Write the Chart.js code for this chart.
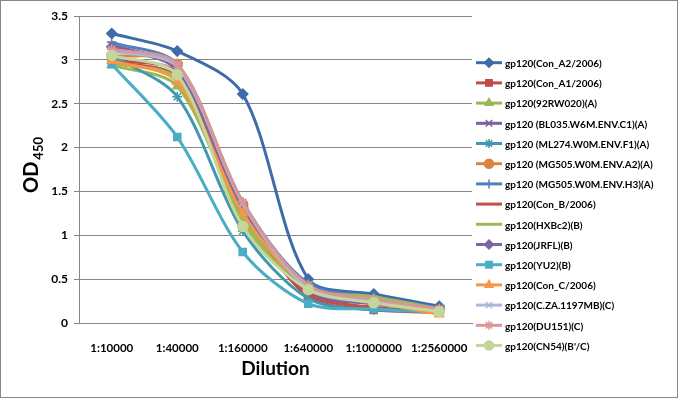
<!DOCTYPE html>
<html>
<head>
<meta charset="utf-8">
<script src="https://cdn.jsdelivr.net/npm/chart.js@4/dist/chart.umd.min.js"></script>
<style>
  html, body { margin: 0; padding: 0; background: #fff; }
  #wrap { width: 678px; height: 398px; position: relative; }
</style>
</head>
<body>
<div id="wrap"><canvas id="odChart" width="678" height="398"></canvas></div>
<script>
// Data
const dilutions = ['1:10000', '1:40000', '1:160000', '1:640000', '1:1000000', '1:2560000'];
const yTicks = [0, 0.5, 1, 1.5, 2, 2.5, 3, 3.5];

const seriesNames = [
    'gp120(Con_A2/2006)',
    'gp120(Con_A1/2006)',
    'gp120(92RW020)(A)',
    'gp120 (BL035.W6M.ENV.C1)(A)',
    'gp120 (ML274.W0M.ENV.F1)(A)',
    'gp120 (MG505.W0M.ENV.A2)(A)',
    'gp120 (MG505.W0M.ENV.H3)(A)',
    'gp120(Con_B/2006)',
    'gp120(HXBc2)(B)',
    'gp120(JRFL)(B)',
    'gp120(YU2)(B)',
    'gp120(Con_C/2006)',
    'gp120(C.ZA.1197MB)(C)',
    'gp120(DU151)(C)',
    "gp120(CN54)(B'/C)"
];

const conA2    = [3.30, 3.10, 2.61, 0.50, 0.33, 0.19];
const conA1    = [3.00, 2.85, 1.30, 0.30, 0.15, 0.12];
const rw020    = [2.94, 2.70, 1.20, 0.38, 0.28, 0.14];
const bl035    = [3.17, 2.90, 1.35, 0.35, 0.22, 0.15];
const ml274    = [3.05, 2.58, 1.05, 0.28, 0.15, 0.14];
const mg505A2  = [3.05, 2.95, 1.35, 0.42, 0.25, 0.15];
const mg505H3  = [3.20, 2.95, 1.38, 0.45, 0.30, 0.17];
const conB     = [2.98, 2.80, 1.30, 0.33, 0.18, 0.13];
const hxbc2    = [2.96, 2.78, 1.15, 0.40, 0.30, 0.16];
const jrfl     = [3.15, 2.88, 1.32, 0.38, 0.22, 0.16];
const yu2      = [2.95, 2.12, 0.81, 0.22, 0.16, 0.12];
const conC     = [2.99, 2.75, 1.25, 0.40, 0.24, 0.10];
const cza1197  = [3.10, 2.92, 1.36, 0.40, 0.26, 0.15];
const du151    = [3.12, 2.95, 1.38, 0.43, 0.27, 0.16];
const cn54     = [3.05, 2.83, 1.10, 0.38, 0.23, 0.13];

const seriesValues = [conA2, conA1, rw020, bl035, ml274, mg505A2, mg505H3, conB, hxbc2, jrfl, yu2, conC, cza1197, du151, cn54];

const colors = ['#3F6CA8', '#BE4B48', '#98B954', '#7D60A0', '#4198AF', '#DB843D', '#4F81BD', '#C0504D',
                '#9BBB59', '#8064A2', '#4BACC6', '#F79646', '#A9B9DC', '#D99694', '#C3D69B'];
const markers = ['rectRot', 'rect', 'triangle', 'crossRot', 'star', 'circle', 'cross', false,
                 false, 'rectRot', 'rect', 'triangle', 'crossRot', 'star', 'circle'];

const FONT = 'Lato, "Open Sans", sans-serif';
const GRID = '#868686';

const datasets = seriesNames.map((name, i) => ({
    label: name,
    data: seriesValues[i],
    borderColor: colors[i],
    backgroundColor: colors[i],
    borderWidth: 3,
    pointStyle: markers[i],
    pointRadius: markers[i] ? 5 : 0,
    pointBorderWidth: 1.5,
    pointBorderColor: colors[i],
    pointBackgroundColor: colors[i],
    tension: 0.3,
    fill: false,
    order: seriesNames.length - i   // later series drawn on top, like Excel
}));

// custom legend + y title + frame
const extras = {
    id: 'extras',
    afterDraw(chart) {
        const ctx = chart.ctx;
        ctx.save();
        // frame
        ctx.strokeStyle = GRID;
        ctx.lineWidth = 1;
        ctx.strokeRect(0.5, 0.5, chart.width - 1, chart.height - 1);

        // y title OD450
        ctx.fillStyle = '#000';
        ctx.translate(38, 193);
        ctx.rotate(-Math.PI / 2);
        ctx.textAlign = 'left';
        ctx.textBaseline = 'alphabetic';
        ctx.font = 'bold 20px ' + FONT;
        ctx.fillText('OD', 0, 0);
        const w = ctx.measureText('OD').width;
        ctx.font = 'bold 13px ' + FONT;
        ctx.fillText('450', w + 2, 5);
        ctx.restore();

        // legend
        ctx.save();
        chart.data.datasets.forEach((ds, i) => {
            const y = 62.7 + i * 20.2;
            ctx.strokeStyle = ds.borderColor;
            ctx.fillStyle = ds.borderColor;
            ctx.lineWidth = 3;
            ctx.beginPath();
            ctx.moveTo(476, y);
            ctx.lineTo(502, y);
            ctx.stroke();
            if (ds.pointStyle) {
                ctx.lineWidth = 1.5;
                Chart.helpers.drawPoint(ctx, { pointStyle: ds.pointStyle, radius: 4.5, rotation: 0, borderWidth: 1.5 }, 489, y);
            }
            ctx.fillStyle = '#000';
            ctx.font = 'bold 10px ' + FONT;
            ctx.textAlign = 'left';
            ctx.textBaseline = 'middle';
            ctx.fillText(ds.label, 505, y + 1);
        });
        ctx.restore();
    }
};

new Chart(document.getElementById('odChart'), {
    type: 'line',
    data: { labels: dilutions, datasets: datasets },
    options: {
        responsive: false,
        animation: false,
        layout: { padding: { top: 16, right: 206, left: 0, bottom: 0 } },
        plugins: { legend: { display: false }, tooltip: { enabled: false } },
        scales: {
            x: {
                offset: true,
                grid: { display: false },
                border: { display: true, color: GRID, width: 1 },
                ticks: { color: '#000', font: { family: FONT, size: 11.5, weight: 'bold' }, maxRotation: 0, autoSkip: false, padding: 10 },
                title: { display: true, text: 'Dilution', color: '#000', font: { family: FONT, size: 19, weight: 'bold' }, padding: { top: 0, bottom: 18 } },
                afterFit: s => { s.height = 75; }
            },
            y: {
                min: 0,
                max: 3.5,
                afterBuildTicks: s => { s.ticks = yTicks.map(v => ({ value: v })); },
                grid: { color: GRID, tickLength: 5 },
                border: { display: true, color: GRID, width: 1 },
                ticks: { color: '#000', font: { family: FONT, size: 12, weight: 'bold' }, padding: 6, callback: v => String(v) },
                afterFit: s => { s.width = 79; }
            }
        }
    },
    plugins: [extras]
});
</script>
</body>
</html>
